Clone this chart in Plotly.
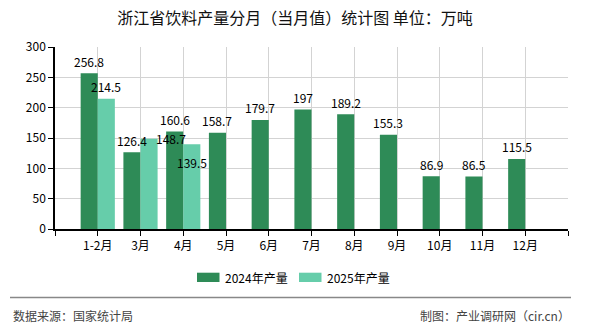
import plotly.graph_objects as go

# Monthly beverage output, Zhejiang province (10k tonnes)
months = ["1-2月", "3月", "4月", "5月", "6月", "7月", "8月", "9月", "10月", "11月", "12月"]
output_2024 = [256.8, 126.4, 160.6, 158.7, 179.7, 197, 189.2, 155.3, 86.9, 86.5, 115.5]
output_2025 = [214.5, 148.7, 139.5]
series_names = ["2024年产量", "2025年产量"]
y_ticks = [0, 50, 100, 150, 200, 250, 300]

COLOR_2024 = "#2E8B57"
COLOR_2025 = "#66CDAA"
FONT = "Noto Sans CJK SC"

W, H = 590, 330
L, R, T, B = 55, 22, 47, 101


def fx(px):
    """pixel x -> paper x"""
    return (px - L) / (W - L - R)


def fy(py):
    """pixel y -> paper y"""
    return (H - B - py) / (H - T - B)


x_pos = list(range(len(months)))

fig = go.Figure()
fig.add_trace(go.Bar(x=x_pos, y=output_2024, name=series_names[0],
                     marker=dict(color=COLOR_2024, line=dict(width=0))))
fig.add_trace(go.Bar(x=x_pos[:len(output_2025)], y=output_2025, name=series_names[1],
                     marker=dict(color=COLOR_2025, line=dict(width=0))))

# value labels above each bar; a few are nudged to avoid overlapping
label_nudge = {(1, 1): (22, 0), (1, 2): (0, -18)}
annotations = []
for s, (vals, dx) in enumerate([(output_2024, -0.2), (output_2025, 0.2)]):
    for i, v in enumerate(vals):
        xs, ys = label_nudge.get((s, i), (0, 12))
        annotations.append(dict(
            x=i + dx, y=v, xref="x", yref="y", text=f"{v:g}", showarrow=False,
            xshift=xs, yshift=ys, yanchor="middle",
            font=dict(family=FONT, size=12, color="#000")))

shapes = []
# legend swatches and texts
for sw_x, name, col in [(197, series_names[0], COLOR_2024), (299, series_names[1], COLOR_2025)]:
    shapes.append(dict(type="rect", xref="paper", yref="paper",
                       x0=fx(sw_x), x1=fx(sw_x + 22.5), y0=fy(282), y1=fy(272.7),
                       fillcolor=col, line=dict(width=0)))
    annotations.append(dict(x=fx(sw_x + 26), y=fy(277), xref="paper", yref="paper",
                            xanchor="left", yanchor="middle", showarrow=False, text=name,
                            font=dict(family=FONT, size=12, color="#000")))

# separator line above footer
shapes.append(dict(type="line", xref="paper", yref="paper",
                   x0=fx(10), x1=fx(571), y0=fy(297.5), y1=fy(297.5),
                   line=dict(color="#888888", width=1.5)))

annotations.append(dict(x=fx(11), y=fy(315), xref="paper", yref="paper",
                        xanchor="left", yanchor="middle", showarrow=False,
                        text="数据来源：国家统计局",
                        font=dict(family=FONT, size=12, color="#444")))
annotations.append(dict(x=fx(572), y=fy(315), xref="paper", yref="paper",
                        xanchor="right", yanchor="middle", showarrow=False,
                        text="制图：产业调研网（cir.cn）",
                        font=dict(family=FONT, size=12, color="#444")))

fig.update_layout(
    width=W, height=H,
    margin=dict(l=L, r=R, t=T, b=B, pad=0),
    paper_bgcolor="white", plot_bgcolor="white",
    barmode="group", bargap=0.2, bargroupgap=0,
    showlegend=False,
    title=dict(text="浙江省饮料产量分月（当月值）统计图 单位：万吨",
               x=0.5, xanchor="center", y=1 - 18 / H, yanchor="middle",
               font=dict(family=FONT, size=16, color="#111")),
    annotations=annotations,
    shapes=shapes,
    xaxis=dict(
        range=[-1, len(months)],
        tickmode="array",
        tickvals=[-1] + x_pos + [len(months)],
        ticktext=[""] + months + [""],
        showgrid=True, gridcolor="#d3d3d3", gridwidth=1,
        showline=True, linecolor="#000", linewidth=1.5,
        ticks="outside", ticklen=5, tickcolor="#000", tickwidth=1,
        tickfont=dict(family=FONT, size=12, color="#000"),
        zeroline=False, fixedrange=True,
    ),
    yaxis=dict(
        range=[0, 300],
        tickmode="array", tickvals=y_ticks,
        showgrid=True, gridcolor="#d3d3d3", gridwidth=1,
        showline=True, linecolor="#000", linewidth=1.5,
        ticks="outside", ticklen=5, tickcolor="#000", tickwidth=1,
        tickfont=dict(family=FONT, size=12, color="#000"),
        zeroline=False, fixedrange=True,
    ),
)

fig.write_html("out.html", config={"displayModeBar": False})
